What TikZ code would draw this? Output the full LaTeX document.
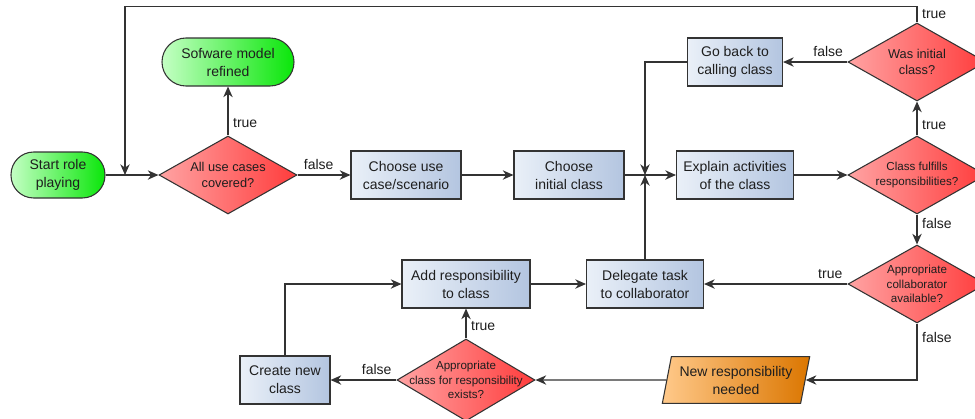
\documentclass[tikz,border=0pt]{standalone}
\usepackage{fontspec}
\setmainfont{Liberation Sans}
\usetikzlibrary{shapes.geometric,arrows.meta}

\definecolor{linegray}{HTML}{333333}
\definecolor{textgray}{HTML}{1E1E1E}
\definecolor{boxleft}{HTML}{EAF0F8}
\definecolor{boxright}{HTML}{B3C5E0}
\definecolor{termleft}{HTML}{C4FFC4}
\definecolor{termright}{HTML}{0AE60A}
\definecolor{decleft}{HTML}{FFA3A3}
\definecolor{decright}{HTML}{FF3C3C}
\definecolor{ioleft}{HTML}{FFC98A}
\definecolor{ioright}{HTML}{DB7600}

\tikzset{
  flow/.style={draw=linegray, line width=1pt,
    -{Stealth[length=8pt,width=7pt,inset=2.5pt]}},
  lbl/.style={font=\fontsize{10.5}{12}\selectfont, text=textgray},
  process/.style={rectangle, draw=linegray, line width=0.8pt,
    left color=boxleft, right color=boxright, minimum height=36pt,
    align=center, text=textgray, inner sep=2pt,
    font=\fontsize{10.5}{13.5}\selectfont},
  terminal/.style={process, left color=termleft, right color=termright,
    rounded corners=17pt},
  decision/.style={diamond, draw=linegray, line width=0.8pt,
    left color=decleft, right color=decright,
    minimum width=103.5pt, minimum height=58.5pt,
    inner xsep=-18pt, inner ysep=-8pt, align=center, text=textgray,
    font=\fontsize{8.7}{11}\selectfont},
  bigq/.style={font=\fontsize{9.6}{12.5}\selectfont},
  inout/.style={trapezium, trapezium left angle=77, trapezium right angle=103,
    trapezium stretches=true,
    draw=linegray, line width=0.8pt, left color=ioleft, right color=ioright,
    minimum width=111pt, minimum height=35pt, align=center, text=textgray,
    inner xsep=-4pt, inner ysep=1pt, font=\fontsize{10.5}{13.5}\selectfont}
}

\begin{document}
\begin{tikzpicture}[x=0.75pt,y=-0.75pt]
  \useasboundingbox (0,0) rectangle (975,418);

  % top row
  \node[terminal, minimum width=70.5pt, minimum height=34.5pt] (start)
    at (58,175) {Start role\\playing};
  \node[terminal, minimum width=99pt, rounded corners=18pt] (refined)
    at (228,62) {Sofware model\\refined};
  \node[decision, bigq] (allcases) at (228,175) {All use cases\\covered?};
  \node[process, minimum width=82.5pt] (usecase)
    at (406,175) {Choose use\\case/scenario};
  \node[process, minimum width=82.5pt] (initcls)
    at (569,175) {Choose\\initial class};
  \node[process, minimum width=87.75pt] (explain)
    at (735,175) {Explain activities\\of the class};
  \node[decision] (fulfills) at (917,175) {Class fulfills\\responsibilities?};
  \node[decision, bigq] (wasinit) at (917,62) {Was initial\\class?};
  \node[process, minimum width=71.25pt] (goback)
    at (735,62) {Go back to\\calling class};

  % lower rows
  \node[decision] (collab) at (917,284)
    {Appropriate\\collaborator\\available?};
  \node[process, minimum width=87.75pt] (delegate)
    at (645,284) {Delegate task\\to collaborator};
  \node[process, minimum width=96pt] (addresp)
    at (466,284) {Add responsibility\\to class};
  \node[inout] (newresp) at (736,380) {New responsibility\\needed};
  \node[decision] (clsexists) at (466,380)
    {Appropriate\\class for responsibility\\exists?};
  \node[process, minimum width=67.5pt] (newcls)
    at (285,380) {Create new\\class};

  \coordinate (merge) at (125,175);
  \coordinate (join) at (645,175);

  % connectors
  \draw[flow] (start) -- (allcases);
  \draw[flow] (allcases.north) -- node[lbl, right, pos=0.25] {true} (refined.south);
  \draw[flow] (allcases.east) -- node[lbl, above, pos=0.4] {false} (usecase.west);
  \draw[flow] (usecase) -- (initcls);
  \draw[flow] (initcls) -- (explain);
  \draw[flow] (goback.west) -| (join);
  \draw[flow] (delegate.north) -- (join);
  \draw[flow] (explain) -- (fulfills);
  \draw[flow] (fulfills.north) -- node[lbl, right, pos=0.3] {true} (wasinit.south);
  \draw[flow] (fulfills.south) -- node[lbl, right, pos=0.3] {false} (collab.north);
  \draw[flow] (wasinit.west) -- node[lbl, above, pos=0.3] {false} (goback.east);
  \draw[flow] (wasinit.north) -- node[lbl, right] {true} ++(0,-16) -| (merge);
  \draw[flow] (collab.west) -- node[lbl, above, pos=0.12] {true} (delegate.east);
  \draw[flow] (collab.south) |- node[lbl, right, pos=0.125] {false} (newresp.east);
  \draw[flow] (newresp) -- (clsexists);
  \draw[flow] (clsexists.west) -- node[lbl, above, pos=0.3] {false} (newcls.east);
  \draw[flow] (clsexists.north) -- node[lbl, right, pos=0.4] {true} (addresp.south);
  \draw[flow] (newcls.north) |- (addresp.west);
  \draw[flow] (addresp) -- (delegate);
\end{tikzpicture}
\end{document}
